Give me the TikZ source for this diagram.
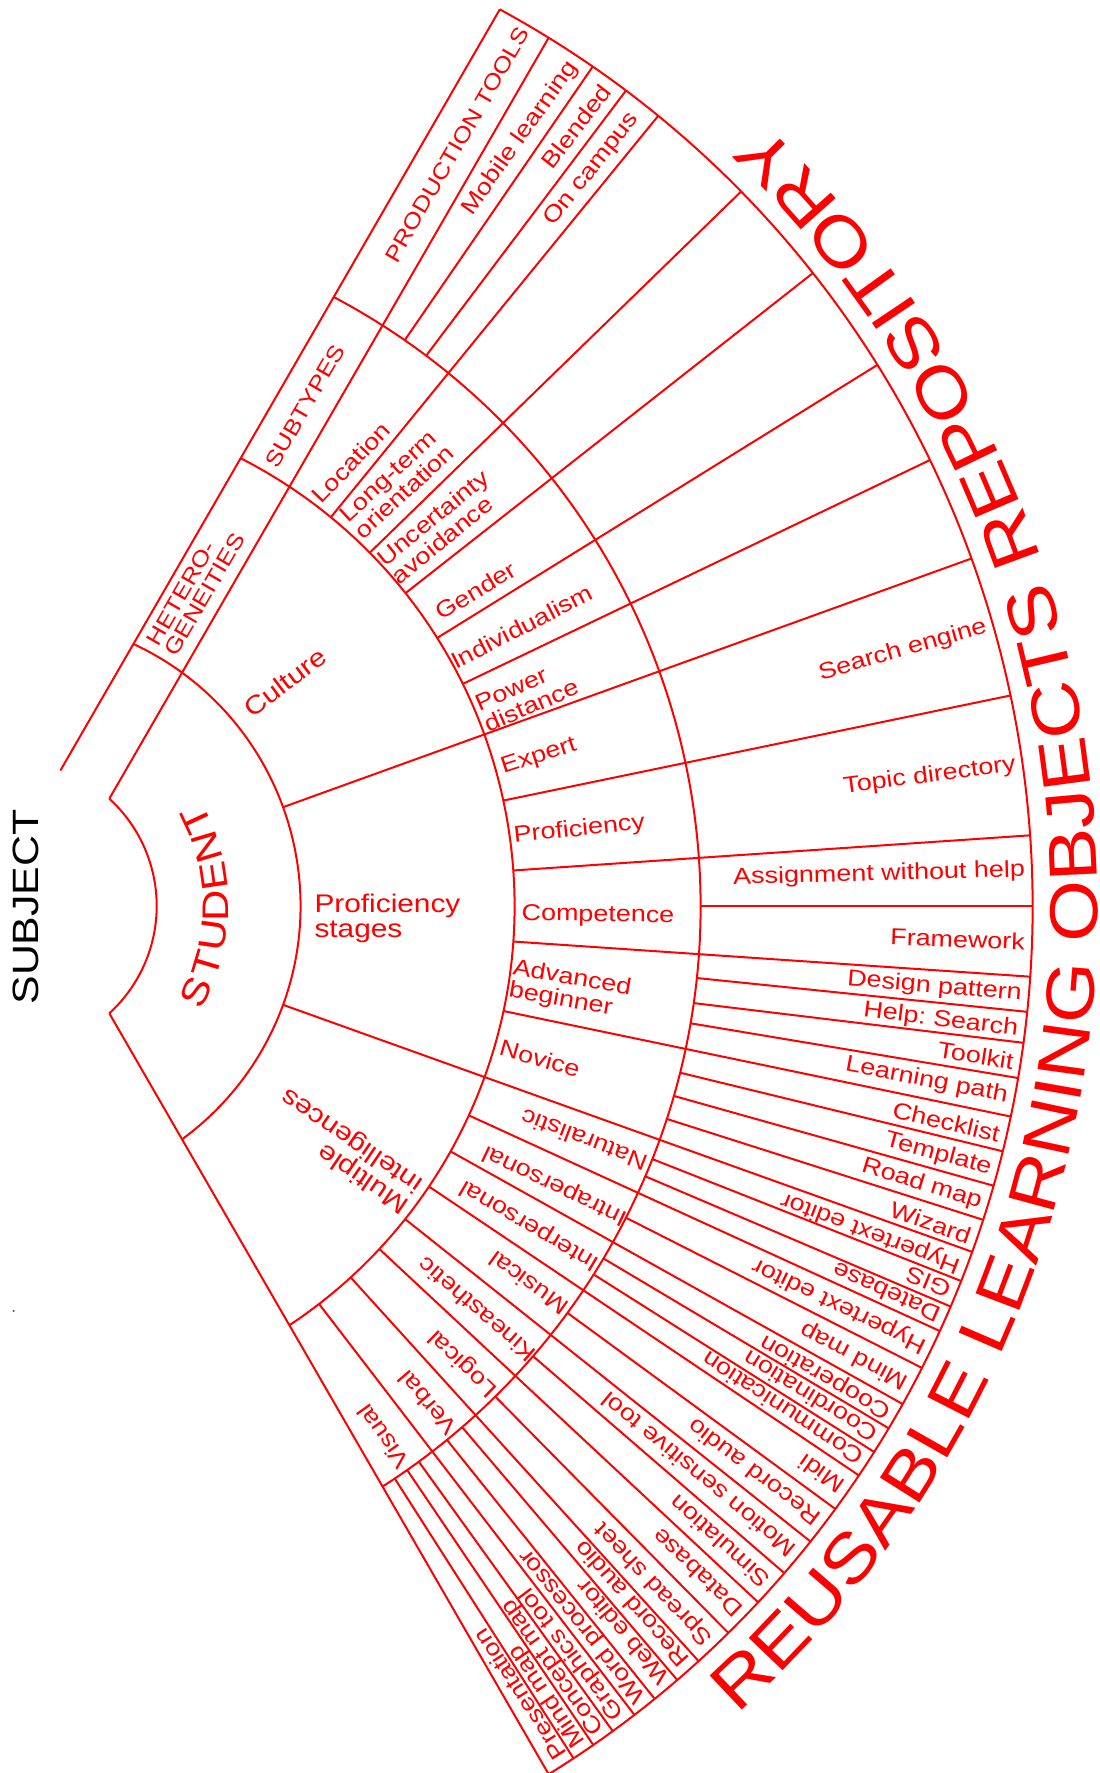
\documentclass[tikz,border=0pt]{standalone}
\usepackage{fontspec}
\setmainfont{Liberation Sans}[FakeStretch=1.17]
\usetikzlibrary{decorations.text}
\definecolor{fanred}{RGB}{255,0,0}
\newcommand\fnTool{\fontsize{11.5}{11.5}\selectfont}
\newcommand\fnMain{\fontsize{12.75}{12.5}\selectfont}
\newcommand\fnBand{\fontsize{11}{10.5}\selectfont}
\newcommand\fnStud{\fontsize{18.5}{18.5}\selectfont}
\newcommand\fnSubj{\fontsize{18.3}{18.3}\selectfont}
\newcommand\fnRepo{\fontsize{34}{34}\selectfont}
\frenchspacing
\begin{document}
\begin{tikzpicture}[x=0.5pt, y=0.5pt, line width=1pt, color=fanred,
  lbl/.style={inner sep=0pt, text=fanred, font=\fnTool, align=left},
  outlbl/.style={lbl, anchor=east},
  inlbl/.style={lbl, anchor=west},
  mainlbl/.style={inner sep=0pt, text=fanred, font=\fnMain, align=left},
  bandlbl/.style={inner sep=0pt, text=fanred, font=\fnBand, align=left},
  studletter/.style={inner sep=0pt, text=fanred, font=\fnStud}]
\useasboundingbox (-11.5,-867) rectangle (1087.5,906);

% ---- rings ----
\draw (47.65:145.2) arc[start angle=47.65, end angle=-47.65, radius=145.2];
\draw (65.05:289) arc[start angle=65.05, end angle=-53.83, radius=289];
\draw (62.89:503) arc[start angle=62.89, end angle=-56.46, radius=503];
\draw (62.11:689) arc[start angle=62.11, end angle=-57.42, radius=689];
\draw (61.43:1021) arc[start angle=61.43, end angle=-58.26, radius=1021];

% ---- fan edges and header band ----
\draw (97.8,107.3) -- (537.15,868.25);
\draw (97.8,-107.3) -- (537.15,-868.25);
\draw (48.9,135.55) -- (488.3,896.6);

% ---- sector boundaries ----
\draw (20:289) -- (19.9:1021);
\draw (-20:289) -- (-19.8:1021);

% culture subtypes
\foreach \a/\b in {26.2/25.9, 32.2/32.0, 38.45/38.3, 44.6/44.4, 50.6/50.7}
  \draw (\a:503) -- (\b:1021);
\foreach \a/\b in {55.2/55.3, 53.0/53.0}
  \draw (\a:689) -- (\b:1021);

% proficiency levels
\foreach \a/\b in {12.1/11.9, 4.05/3.97, -4.05/-3.97, -12.05/-11.9}
  \draw (\a:503) -- (\b:1021);
\foreach \a/\b in {0/0, -6/-5.95, -8.1/-7.7, -9.8/-9.7, -14/-13.9, -16/-15.9, -18/-17.9}
  \draw (\a:689) -- (\b:1021);

% intelligences
\foreach \a/\b in {-24.6/-24.6, -29.2/-29.2, -33.9/-33.9, -38.5/-38.5, -43.0/-43.0, -47.6/-47.7, -52.3/-52.4}
  \draw (\a:503) -- (\b:1021);
\foreach \a/\b in {-21.55/-21.55, -23.1/-23.1, -26.9/-26.9, -30.77/-30.77, -32.33/-32.33,
                   -36.2/-36.2, -40.8/-40.8, -45.4/-45.4, -49.15/-49.3, -50.8/-50.95,
                   -53.76/-53.92, -54.95/-55.26, -56.2/-56.6}
  \draw (\a:689) -- (\b:1021);

% ---- header band labels ----
\node[bandlbl, anchor=west, rotate=60] (hetero) at (149.3,256.5) {HETERO-\\GENEITIES};
\node[bandlbl, rotate=60] (subtypes) at (293.4,500.1) {SUBTYPES};
\node[bandlbl, rotate=60] (prodtools) at (445.7,761.3) {PRODUCTION TOOLS};

% ---- centre ----
\node[inner sep=0pt, text=black, font=\fnSubj, rotate=90] (subject) at (14.5,-1) {SUBJECT};
\foreach \ch [count=\i] in {S,T,U,D,E,N,T}
  \node[studletter, rotate={-25+(\i-1)*8.33+90}] (stu\i) at ({-25+(\i-1)*8.33}:204) {\ch};

% ---- main groups ----
\node[mainlbl, rotate=37] (culture) at (273.5,223.5) {Culture};
\node[mainlbl, anchor=west] (profstages) at (302,-12) {Proficiency\\stages};
\node[mainlbl, rotate=145.8] (multi) at (334,-244) {Multiple\\intelligences};

% ---- culture subtypes ----
\node[lbl, rotate=46.3] (location) at (339.3,443.5) {Location};
\node[lbl, rotate=42.7] (longterm) at (385.2,422.7) {Long-term\\orientation};
\node[lbl, rotate=39.3] (uncert) at (428.5,379.3) {Uncertainty\\avoidance};
\node[lbl, rotate=31.2] (gender) at (464.2,315.3) {Gender};
\node[lbl, rotate=27.1] (indiv) at (510.2,279.3) {Individualism};
\node[lbl, rotate=23.5] (power) at (515.2,211) {Power\\distance};

% ---- proficiency levels ----
\node[lbl, rotate=18] (expert) at (527.5,149.3) {Expert};
\node[lbl, rotate=6] (proficiency) at (567.9,76) {Proficiency};
\node[lbl, rotate=-0.7] (competence) at (586.5,-9.8) {Competence};
\node[lbl, rotate=-10] (advanced) at (558.5,-84) {Advanced\\beginner};
\node[lbl, rotate=-16] (novice) at (528.5,-152.3) {Novice};

% ---- intelligences ----
\node[lbl, rotate=159] (natural) at (572.5,-234) {Naturalistic};
\node[lbl, rotate=154.6] (intra) at (543.5,-279) {Intrapersonal};
\node[lbl, rotate=149.5] (inter) at (518.5,-319) {Interpersonal};
\node[lbl, rotate=144] (musical) at (516.8,-377.3) {Musical};
\node[lbl, rotate=139.3] (kinaes) at (465.2,-404) {Kineasthetic};
\node[lbl, rotate=136] (logical) at (451.8,-457.3) {Logical};
\node[lbl, rotate=130.5] (verbal) at (415.8,-497.3) {Verbal};
\node[lbl, rotate=125.3] (visual) at (371.5,-531) {Visual};

% ---- delivery modes ----
\node[outlbl, rotate=54.7] (mobile) at (56.3:1013) {Mobile learning};
\node[outlbl, rotate=52.3] (blended) at (54.0:1013) {Blended};
\node[outlbl, rotate=51.6] (campus) at (51.75:1008) {On campus};

% ---- tools, right side ----
\foreach \a/\r/\t [count=\i] in {16/16/Search engine, 8/7.5/Topic directory,
    2/1.5/Assignment without help, -2/-2/Framework, -5/-5/Design pattern,
    -7/-7/Help: Search, -8.8/-8.8/Toolkit, -10.8/-10.8/Learning path,
    -13/-13/Checklist, -15/-15/Template, -17/-17/Road map, -19/-19/Wizard}
  \node[outlbl, rotate=\r] (tool\i) at (\a:1015) {\t};

% ---- tools, lower side ----
\foreach \a/\t [count=\i] in {-20.8/Hypertext editor, -22.3/GIS, -23.85/Datebase,
    -25.75/Hypertext editor, -28.05/Mind map, -30.0/Cooperation, -31.55/Coordination,
    -33.1/Communication, -35.05/Midi, -37.35/Record audio, -39.65/Motion sensitive tool,
    -41.9/Simulation, -44.2/Database, -46.5/Spread sheet, -48.4/Record audio,
    -49.95/Web editor, -51.55/Word processor, -53.14/Graphics tool, -54.53/Concept map,
    -55.84/Mind map, -57.2/Presentation}
  \node[inlbl, rotate={\a+180}] (low\i) at (\a:1015) {\t};

% ---- outer title ----
\path[decorate, decoration={text along path, text align=center, text color=fanred,
    text={|\fnRepo|REUSABLE LEARNING OBJECTS REPOSITORY}}]
  (-61:1086) arc[start angle=-61, end angle=59, radius=1086];

\fill[black!60] (2.1,-405) circle[radius=1.2];
\end{tikzpicture}
\end{document}
